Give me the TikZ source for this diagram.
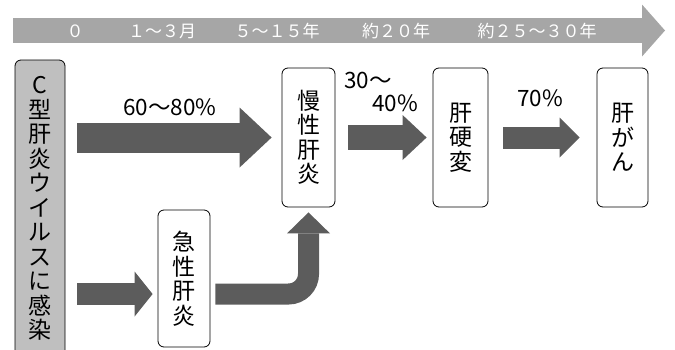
\documentclass[tikz,border=0pt]{standalone}
\usepackage{fontspec}
\setmainfont{Noto Sans CJK JP}
\usetikzlibrary{positioning,arrows.meta,calc}

\begin{document}
\begin{tikzpicture}[
    x=1pt, y=-1pt,
    box/.style   = {draw, line width=0.8pt, rounded corners=6pt, fill=white,
                    align=center, inner sep=0pt,
                    font=\fontsize{23}{24.5}\selectfont},
    stage/.style = {box, minimum height=139pt},
    fat/.style   = {line width=#1, draw=black!64},
    head/.style 2 args = {-{Triangle[length=#1,width=#2,line width=0pt]}},
    tick/.style  = {text=white, font=\fontsize{17}{17}\selectfont},
    pct/.style   = {font=\fontsize{22.5}{22.5}\selectfont},
]
\useasboundingbox (0,0) rectangle (675,349);

%% ── time band ─────────────────────────────────────────────────────────────
\coordinate (tl) at (13,30.5);
\coordinate (tr) at (665,30.5);
\draw[line width=25pt, draw=black!35, head={23pt}{52pt}] (tl) -- (tr);

\node[tick] (t0) at (75,31)  {０};
\node[tick] (t1) at (162,31) {１～３月};
\node[tick] (t2) at (277,31) {５～１５年};
\node[tick] (t3) at (396,31) {約２０年};
\node[tick] (t4) at (537,31) {約２５～３０年};

%% ── stages ────────────────────────────────────────────────────────────────
\node[box, fill=black!25, minimum width=50pt, minimum height=297pt] (virus)
  at (40,208.5) {C\\型\\肝\\炎\\ウ\\イ\\ル\\ス\\に\\感\\染};
\node[stage, minimum width=53pt] (chronic) at (308.5,137.5) {慢\\性\\肝\\炎};
\node[stage, minimum width=55pt] (cirrh)   at (460.5,137.5) {肝\\硬\\変};
\node[stage, minimum width=51pt] (cancer)  at (622.5,137.5) {肝\\が\\ん};
\node[box, minimum width=52pt, minimum height=137pt] (acute)
  at (184,278.5) {急\\性\\肝\\炎};

%% ── upper row ─────────────────────────────────────────────────────────────
\draw[fat=30pt, head={32pt}{60pt}]
  ([xshift=12pt]virus.east |- chronic.west) -- ([xshift=-10pt]chronic.west);
\node[pct] (p1) at (170,107) {60～80\%};

\draw[fat=25pt, head={24pt}{45pt}]
  ([xshift=13pt]chronic.east) -- ([xshift=-6pt]cirrh.west);
\node[pct] (p2a) at (368,80)  {30～};
\node[pct] (p2b) at (395,103) {40\%};

\draw[fat=22pt, head={20pt}{40pt}]
  ([xshift=15pt]cirrh.east) -- ([xshift=-17pt]cancer.west);
\node[pct] (p3) at (540,98) {70\%};

%% ── lower row ─────────────────────────────────────────────────────────────
\coordinate (low) at (0,294);
\draw[fat=22pt, head={18pt}{45pt}]
  ([xshift=12pt]virus.east |- low) -- ([xshift=-5pt]acute.west |- low);
\draw[fat=21pt, head={21pt}{43pt}, rounded corners=20pt]
  ([xshift=5pt]acute.east |- low) -| ([yshift=-5pt]chronic.south);

\end{tikzpicture}
\end{document}
